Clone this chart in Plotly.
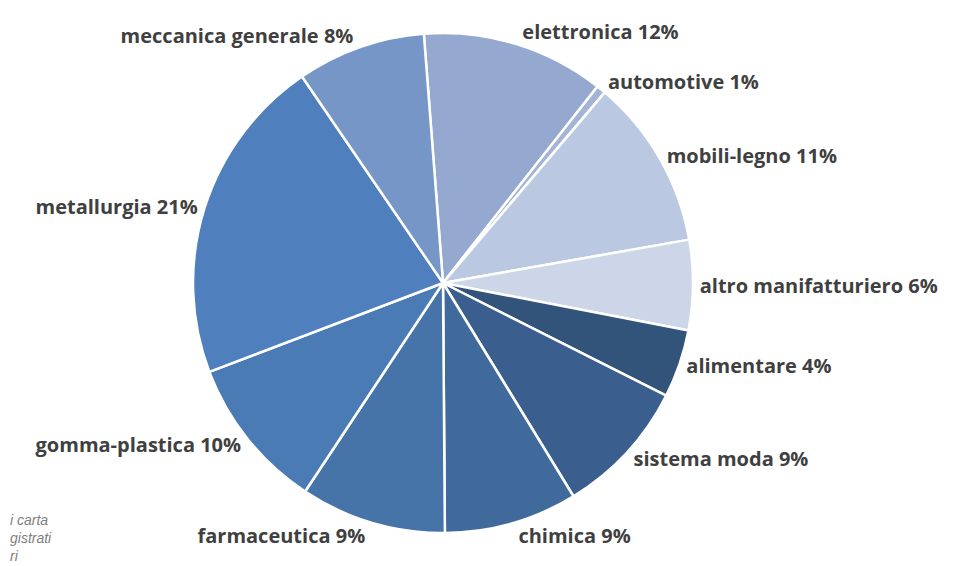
import plotly.graph_objects as go

# settori e quote (in %)
settori = ["elettronica", "automotive", "mobili-legno", "altro manifatturiero",
           "alimentare", "sistema moda", "chimica", "farmaceutica",
           "gomma-plastica", "metallurgia", "meccanica generale"]
quote = [11.8, 0.6, 11.0, 5.8, 4.4, 8.8, 8.6, 9.4, 9.9, 21.2, 8.3]
colori = ["#95a9d0", "#a3b4d6", "#bac8e1", "#cdd6e8", "#32547a", "#3a5f8e",
          "#406a9c", "#4673a8", "#4a7bb4", "#4f80bd", "#7596c6"]

font_etichette = dict(family="Open Sans", size=20, color="#404040", weight="bold")

fig = go.Figure(go.Pie(
    labels=settori,
    values=quote,
    sort=False,
    direction="clockwise",
    rotation=-4.4,
    marker=dict(colors=colori, line=dict(color="white", width=2.5)),
    texttemplate="%{label} %{percent:.0%}",
    textposition="outside",
    textfont=font_etichette,
    outsidetextfont=font_etichette,
    domain=dict(x=[0.148, 0.748], y=[0, 1]),
    showlegend=False,
    hoverinfo="label+percent",
))

# nota della fonte (frammento visibile sul bordo sinistro)
fig.add_annotation(
    text="i carta<br>gistrati<br>ri",
    x=0, y=0.047, xref="paper", yref="paper", xanchor="left", yanchor="top",
    showarrow=False, align="left",
    font=dict(family="Liberation Sans", size=14, color="#808080", style="italic"),
)

fig.update_layout(
    width=971, height=566,
    margin=dict(l=0, r=0, t=25, b=41, autoexpand=False),
    paper_bgcolor="white",
)

fig.write_html("out.html")
